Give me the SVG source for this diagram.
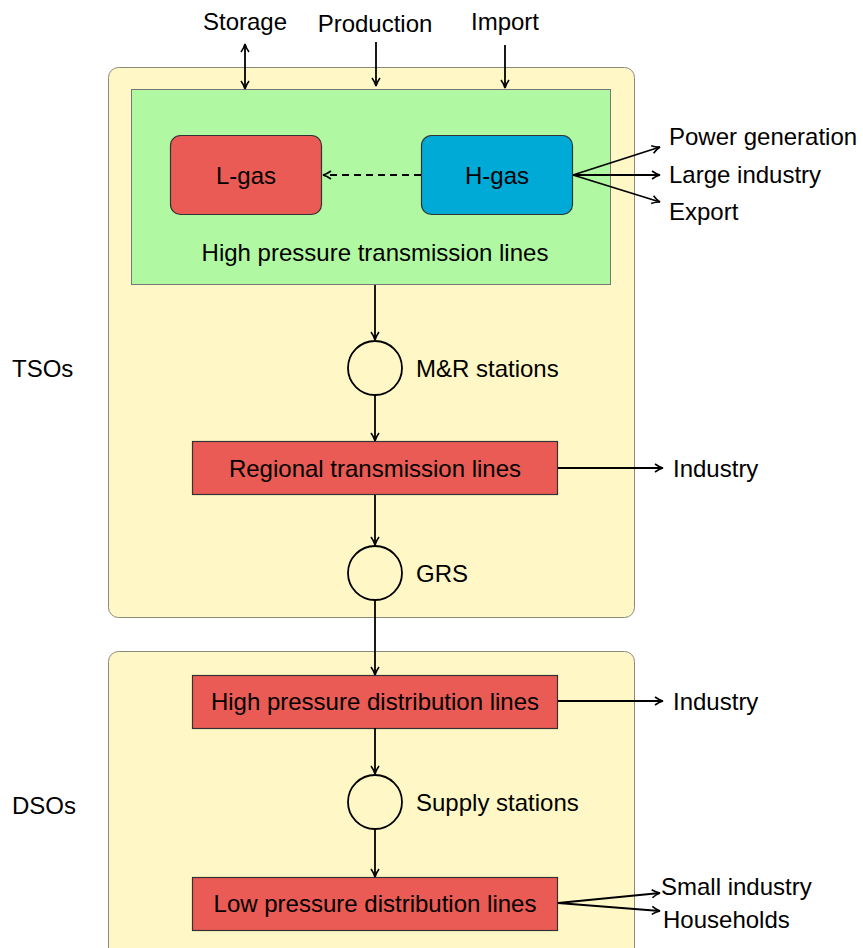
<svg xmlns="http://www.w3.org/2000/svg" width="863" height="948" viewBox="0 0 863 948">
<defs>
<style>
text{font-family:"Liberation Sans","DejaVu Sans",sans-serif;font-size:24px;fill:#000}
.c{text-anchor:middle}
.ln{stroke:#000;stroke-width:1.8;fill:none}
.zone{fill:#FFF8C6;stroke:#8a8a7a;stroke-width:1}
.red{fill:#EA5B55;stroke:#333;stroke-width:1.2}
.blue{fill:#00AAD6;stroke:#333;stroke-width:1.2}
.circ{fill:none;stroke:#000;stroke-width:1.8}
</style>
<marker id="ah" viewBox="0 0 10 10" refX="9" refY="5" markerWidth="10" markerHeight="10" markerUnits="userSpaceOnUse" orient="auto-start-reverse">
<path d="M1,1 Q5,4 9,5 Q5,6 1,9" fill="none" stroke="#000" stroke-width="1.6"/>
</marker>
</defs>
<rect width="863" height="948" fill="#fff"/>
<g id="tso-zone"><rect class="zone" x="108.5" y="67.5" width="526" height="550" rx="10"/></g>
<g id="dso-zone"><rect class="zone" x="108.5" y="651.5" width="526" height="320" rx="10"/></g>
<g id="hp-transmission"><rect x="131.5" y="89.5" width="479" height="195" fill="#B0F9A2" stroke="#777" stroke-width="1"/><text class="c" x="375" y="261">High pressure transmission lines</text></g>
<g id="l-gas"><rect class="red" x="170.5" y="135.5" width="151" height="79" rx="10"/><text class="c" x="246" y="184">L-gas</text></g>
<g id="h-gas"><rect class="blue" x="421.5" y="135.5" width="151" height="79" rx="10"/><text class="c" x="497" y="184">H-gas</text></g>
<g id="storage"><text class="c" x="245" y="30">Storage</text></g>
<g id="production"><text class="c" x="375" y="32">Production</text></g>
<g id="import"><text class="c" x="505" y="30">Import</text></g>
<g id="power-gen"><text x="669" y="145">Power generation</text></g>
<g id="large-industry"><text x="669" y="183">Large industry</text></g>
<g id="export"><text x="669" y="220">Export</text></g>
<g id="mr-stations"><circle class="circ" cx="375" cy="368" r="27"/><text x="416" y="377">M&amp;R stations</text></g>
<g id="regional"><rect class="red" x="192.5" y="441.5" width="365" height="53"/><text class="c" x="375" y="477">Regional transmission lines</text></g>
<g id="industry1"><text x="673" y="477">Industry</text></g>
<g id="grs"><circle class="circ" cx="375" cy="573" r="27"/><text x="416" y="582">GRS</text></g>
<g id="hp-distribution"><rect class="red" x="192.5" y="675.5" width="365" height="53"/><text class="c" x="375" y="710">High pressure distribution lines</text></g>
<g id="industry2"><text x="673" y="710">Industry</text></g>
<g id="supply-stations"><circle class="circ" cx="375" cy="802" r="27"/><text x="416" y="811">Supply stations</text></g>
<g id="lp-distribution"><rect class="red" x="192.5" y="877.5" width="365" height="53"/><text class="c" x="375" y="912">Low pressure distribution lines</text></g>
<g id="small-industry"><text x="661" y="895">Small industry</text></g>
<g id="households"><text x="663" y="928">Households</text></g>
<g id="tsos"><text x="12" y="377">TSOs</text></g>
<g id="dsos"><text x="12" y="814">DSOs</text></g>
<g id="connectors">
<line class="ln" x1="245" y1="44" x2="245" y2="89" marker-start="url(#ah)" marker-end="url(#ah)"/>
<line class="ln" x1="376" y1="42" x2="376" y2="86" marker-end="url(#ah)"/>
<line class="ln" x1="505" y1="45" x2="505" y2="88" marker-end="url(#ah)"/>
<line class="ln" x1="421" y1="175" x2="323" y2="175" stroke-dasharray="7,5" marker-end="url(#ah)"/>
<line class="ln" x1="573" y1="175" x2="660" y2="147" marker-end="url(#ah)"/>
<line class="ln" x1="573" y1="175" x2="660" y2="175" marker-end="url(#ah)"/>
<line class="ln" x1="573" y1="175" x2="660" y2="202" marker-end="url(#ah)"/>
<line class="ln" x1="375" y1="285" x2="375" y2="340" marker-end="url(#ah)"/>
<line class="ln" x1="375" y1="395" x2="375" y2="441" marker-end="url(#ah)"/>
<line class="ln" x1="558" y1="468" x2="663" y2="468" marker-end="url(#ah)"/>
<line class="ln" x1="375" y1="495" x2="375" y2="545" marker-end="url(#ah)"/>
<line class="ln" x1="375" y1="600" x2="375" y2="675" marker-end="url(#ah)"/>
<line class="ln" x1="558" y1="701" x2="663" y2="701" marker-end="url(#ah)"/>
<line class="ln" x1="375" y1="728" x2="375" y2="774" marker-end="url(#ah)"/>
<line class="ln" x1="375" y1="829" x2="375" y2="877" marker-end="url(#ah)"/>
<line class="ln" x1="558" y1="903" x2="660" y2="893" marker-end="url(#ah)"/>
<line class="ln" x1="558" y1="903" x2="660" y2="911" marker-end="url(#ah)"/>
</g>
</svg>
